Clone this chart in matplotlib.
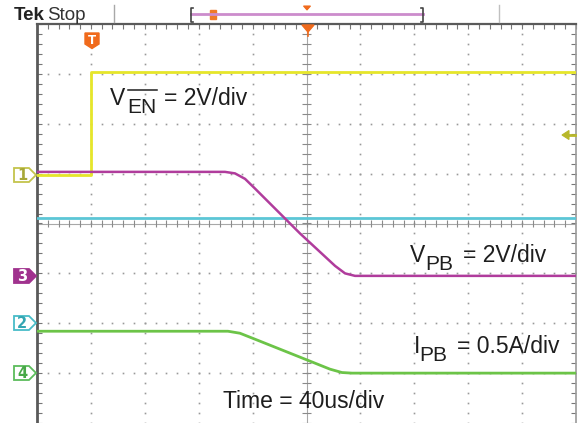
import numpy as np
import matplotlib
matplotlib.use("Agg")
import matplotlib.pyplot as plt
from matplotlib.patches import Polygon
from matplotlib.lines import Line2D
from matplotlib.collections import LineCollection

# ---------------- data (time in us, 40 us/div, centre = 0) ----------------
t_en = [-200, -160, -160, 200]
v_en = [0.0, 0.0, 4.14, 4.14]                      # V, 2 V/div (ch1)

t_pb = [-200, -60.5, -53.1, -45.6, -38.2, -4.8, 21.2, 28.6, 36.0, 200]
v_pb = [4.17, 4.17, 4.11, 3.89, 3.50, 1.70, 0.40, 0.10, 0.0, 0.0]   # V, 2 V/div (ch3)

t_ch2 = [-200, 200]
v_ch2 = [2.11, 2.11]                               # div above ch2 ground

t_ipb = [-200, -58.3, -49.4, -38.2, -4.8, 17.4, 26.3, 33.8, 200]
i_pb = [0.42, 0.42, 0.40, 0.34, 0.16, 0.04, 0.006, 0.0, 0.0]         # A, 0.5 A/div (ch4)

ch_offset = {"1": 0.97, "2": -2.0, "3": -1.05, "4": -3.0}   # div
ch_scale = {"1": 2.0, "2": 1.0, "3": 2.0, "4": 0.5}
labels = ["V", "EN", "= 2V/div", "V", "PB", "= 2V/div", "I", "PB", "= 0.5A/div",
          "Time = 40us/div"]

# ---------------- figure ----------------
W, H = 581, 423
fig = plt.figure(figsize=(W / 100, H / 100), dpi=100)
fig.patch.set_facecolor("white")


def fx(x):
    return x / W


def fy(y):
    return 1 - y / H


ax = fig.add_axes([37 / W, 0, 539 / W, 399 / H])
ax.set_xlim(-200, 200)
ax.set_ylim(-4, 4)
ax.set_facecolor("white")

ax.spines["bottom"].set_visible(False)
ax.spines["left"].set_color("#5a5a5a")
ax.spines["left"].set_linewidth(2.0)
ax.spines["top"].set_color("#5a5a5a")
ax.spines["top"].set_linewidth(1.6)
ax.spines["right"].set_color("#9a9a9a")
ax.spines["right"].set_linewidth(1.2)

ax.set_xticks(np.arange(-200, 201, 8))
ax.set_yticks(np.arange(-4, 4.01, 0.2))
ax.tick_params(axis="x", direction="in", length=3.5, width=0.8, color="#777",
               top=True, bottom=False, labelbottom=False, labeltop=False)
ax.tick_params(axis="y", direction="in", length=3.5, width=0.8, color="#777",
               left=True, right=True, labelleft=False, labelright=False)

# dotted graticule
gx, gy = [], []
for xv in range(-160, 161, 40):
    if xv == 0:
        continue
    for yv in np.arange(-4, 4.01, 0.2):
        gx.append(xv); gy.append(yv)
for yv in range(-3, 4):
    if yv == 0:
        continue
    for xv in np.arange(-200, 201, 8):
        gx.append(xv); gy.append(yv)
ax.plot(gx, gy, ls="none", marker="s", ms=1.2, mew=0, color="#999999", zorder=1)

# centre cross with ticks
ax.axhline(0, color="#a8a8a8", lw=0.8, zorder=1)
ax.axvline(0, color="#a8a8a8", lw=0.8, zorder=1)
segs = []
for xv in np.arange(-200, 201, 8):
    segs.append([(xv, -0.08), (xv, 0.08)])
for yv in np.arange(-4, 4.01, 0.2):
    segs.append([(-3, yv), (3, yv)])
ax.add_collection(LineCollection(segs, colors="#8a8a8a", linewidths=0.8, zorder=1))


def to_div(vals, ch):
    return [v / ch_scale[ch] + ch_offset[ch] for v in vals]


ax.plot(t_ch2, to_div(v_ch2, "2"), color="#5cc6d6", lw=2.0, zorder=3)
ax.plot(t_en, to_div(v_en, "1"), color="#e6e62a", lw=2.0, zorder=3)
ax.plot(t_pb, to_div(v_pb, "3"), color="#b03c9c", lw=1.8, zorder=4)
ax.plot(t_ipb, to_div(i_pb, "4"), color="#6cc448", lw=2.0, zorder=4)


# ---------------- overlay helpers (pixel coordinates) ----------------
def poly(pts, **kw):
    p = Polygon([(fx(x), fy(y)) for x, y in pts], closed=True,
                transform=fig.transFigure, **kw)
    fig.add_artist(p)


def line(xs, ys, **kw):
    fig.add_artist(Line2D([fx(x) for x in xs], [fy(y) for y in ys],
                          transform=fig.transFigure, **kw))


def txt(x, y, s, size, **kw):
    kw.setdefault("color", "#1e1e1e")
    kw.setdefault("family", "Liberation Sans")
    fig.text(fx(x), fy(y), s, fontsize=size, va="baseline", ha="left", **kw)


# channel markers
def marker(y, label, ec, fc, tc):
    poly([(14, y - 7), (29, y - 7), (36, y), (29, y + 7), (14, y + 7)],
         ec=ec, fc=fc, lw=1.3, zorder=10)
    fig.text(fx(22), fy(y), label, fontsize=10.5, fontweight="bold", color=tc,
             ha="center", va="center", family="DejaVu Sans", zorder=11)


marker(175, "1", "#c4c44c", "white", "#a8a838")
marker(276, "3", "#a0328e", "#a0328e", "white")
marker(323, "2", "#48bcc8", "white", "#34a6b2")
marker(373, "4", "#5cbc5c", "white", "#48a848")

# trigger 'T' marker
poly([(85, 33), (99, 33), (99, 44), (92, 48.5), (85, 44)], fc="#f06a1c",
     ec="#f06a1c", lw=1, zorder=10)
fig.text(fx(92), fy(40.5), "T", fontsize=8.5, fontweight="bold", color="white",
         ha="center", va="center", zorder=11)

# horizontal position marker at top
poly([(302, 25), (314, 25), (308, 32)], fc="#f06a1c", ec="#f06a1c", lw=1, zorder=10)
line([308, 308], [31, 36], color="#f06a1c", lw=1.2, zorder=10)

# trigger level arrow on right
poly([(562, 135), (569, 130.5), (569, 139.5)], fc="#b8b82a", ec="#b8b82a", lw=0.8,
     zorder=10)
line([568, 575], [135, 135], color="#b8b82a", lw=2, zorder=10)

# header
fig.text(fx(14), fy(20), "Tek", fontsize=13.5, fontweight="bold", color="#222",
         family="Liberation Sans", ha="left", va="baseline")
fig.text(fx(47), fy(20), "Stop", fontsize=13.5, color="#333", family="Liberation Sans",
         ha="left", va="baseline")
line([114, 114], [5, 22], color="#a8a8a8", lw=1)
line([499, 499], [5, 22], color="#c0c0c0", lw=1)
line([191, 423], [14, 14], color="#cc8ccc", lw=2)
line([193, 191, 191, 193], [8, 8, 22, 22], color="#444", lw=1.2)
line([421, 423, 423, 421], [8, 8, 22, 22], color="#444", lw=1.2)
poly([(210, 10), (216, 10), (216, 19), (210, 19)], fc="#f07a2a", ec="#f07a2a", lw=1)
poly([(303.5, 6), (310.5, 6), (307, 10)], fc="#f06a1c", ec="#f06a1c", lw=0.8)

# labels
txt(110, 105, labels[0], 16.5)
txt(127, 113, labels[1], 15)
line([128, 157], [90, 90], color="#1e1e1e", lw=1.1)
txt(164, 105, labels[2], 16.5)

txt(410, 262, labels[3], 16.5)
txt(425, 270, labels[4], 15)
txt(463, 262, labels[5], 16.5)

txt(414, 353, labels[6], 16.5)
txt(419, 361, labels[7], 15)
txt(457, 353, labels[8], 16.5)

txt(223, 408, labels[9], 16.5)

fig.savefig("out.png", dpi=100, facecolor="white")
